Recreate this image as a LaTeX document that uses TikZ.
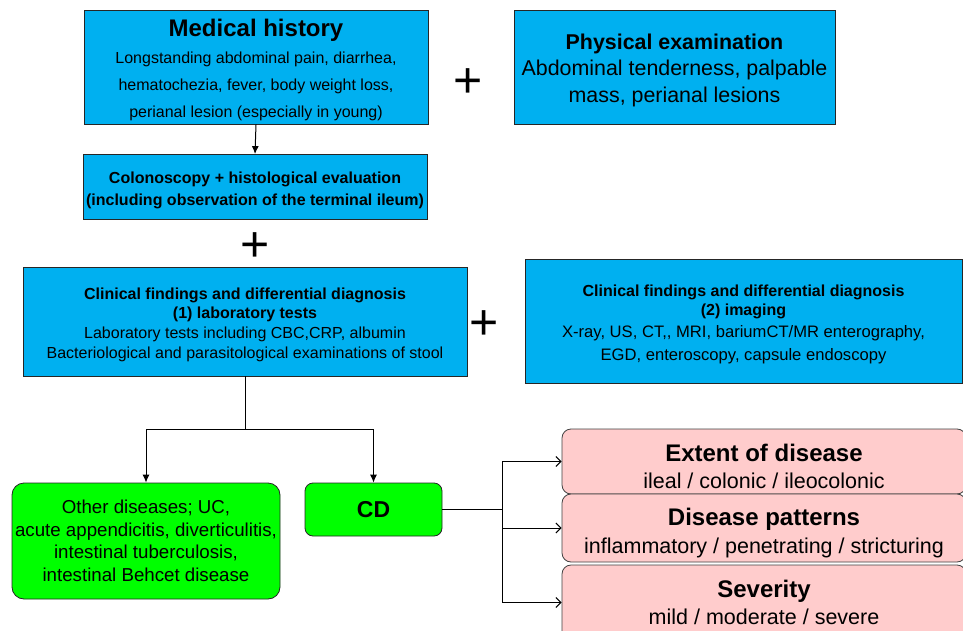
\documentclass[tikz,border=0pt]{standalone}
\usepackage{fontspec}
\setmainfont{Liberation Sans}
\usetikzlibrary{arrows.meta,positioning}

\definecolor{boxblue}{HTML}{00B0F0}
\definecolor{boxgreen}{HTML}{00FF00}
\definecolor{boxpink}{HTML}{FFCCCC}

\newcommand{\fsz}[2]{\fontsize{#1}{#2}\selectfont}
% taller first line, pushes the text block down a little
\newcommand{\topstrut}[1]{\rule{0pt}{#1}}

\tikzset{
  bluebox/.style={draw=black!85, line width=0.8pt, fill=boxblue, inner sep=0pt, align=center},
  greenbox/.style={draw=black!85, line width=0.8pt, fill=boxgreen, rounded corners=12pt, inner sep=0pt, align=center},
  pinkbox/.style={draw=black!75, line width=0.8pt, fill=boxpink, rounded corners=9pt, inner sep=0pt, align=center},
  plussign/.style={font=\fsz{50}{50}, inner sep=0pt},
  link/.style={line width=1pt},
  fwd/.style={link, -{Latex[length=8pt,width=7pt]}},
  branch/.style={link, -{Straight Barb[length=5pt,width=10pt]}},
}

\begin{document}
\begin{tikzpicture}[x=1pt,y=-1pt]
    \useasboundingbox (0,0) rectangle (963,631);

    % first row
    \node[bluebox, minimum width=344pt, minimum height=114pt, font=\fsz{16}{27}] (med_hist) at (256,67)
        {{\bfseries\fsz{24}{27}\topstrut{23.5pt}Medical history}\\ Longstanding abdominal pain, diarrhea,\\ hematochezia, fever, body weight loss,\\ perianal lesion (especially in young)};
    \node[bluebox, minimum width=321pt, minimum height=114pt, font=\fsz{21.4}{26.5}] (phys_exam) at (674.5,67)
        {{\bfseries\topstrut{21.5pt}Physical examination}\\ Abdominal tenderness, palpable\\ mass, perianal lesions};
    \node[plussign] (plus_a) at (468,83) {+};

    % colonoscopy
    \node[bluebox, minimum width=344pt, minimum height=65pt, font=\bfseries\fsz{16}{22}] (colono) at (255,187)
        {\topstrut{17.5pt}Colonoscopy + histological evaluation\\ (including observation of the terminal ileum)};
    \node[plussign] (plus_b) at (255,247) {+};

    % clinical findings
    \node[bluebox, minimum width=444pt, minimum height=109pt, font=\fsz{16}{19.7}] (lab_tests) at (245,321.5)
        {{\bfseries\topstrut{17.5pt}Clinical findings and differential diagnosis}\\ {\bfseries (1) laboratory tests}\\ Laboratory tests including CBC,CRP, albumin\\ Bacteriological and parasitological examinations of stool};
    \node[plussign] (plus_c) at (484,325) {+};
    \node[bluebox, minimum width=437pt, minimum height=124pt, font=\fsz{16}{19}] (imaging) at (743.5,321)
        {{\bfseries\topstrut{17.5pt}Clinical findings and differential diagnosis}\\ {\bfseries (2) imaging}\\[3pt] \fsz{16.6}{19}X-ray, US, CT,\kern0pt, MRI, bariumCT/MR enterography,\\[4pt] \fsz{16.6}{19}EGD, enteroscopy, capsule endoscopy};

    % diagnosis
    \node[greenbox, minimum width=268pt, minimum height=116pt, font=\fsz{18.7}{22.5}] (other_dis) at (146,541)
        {Other diseases; UC,\\ acute appendicitis, diverticulitis,\\ intestinal tuberculosis,\\ intestinal Behcet disease};
    \node[greenbox, rounded corners=8pt, minimum width=137pt, minimum height=53pt, font=\bfseries\fsz{23}{24}] (cd) at (373.5,509.5) {CD};

    % classification of CD
    \node[pinkbox, minimum width=404pt, minimum height=65pt, font=\fsz{21.5}{27.5}] (extent) at (764,461.5)
        {{\bfseries\fsz{24}{27.5}\topstrut{27pt}Extent of disease}\\ ileal / colonic / ileocolonic};
    \node[pinkbox, minimum width=404pt, minimum height=68pt, font=\fsz{21.5}{27.5}] (patterns) at (764,528)
        {{\bfseries\fsz{24}{27.5}\topstrut{27pt}Disease patterns}\\ inflammatory / penetrating / stricturing};
    \node[pinkbox, minimum width=404pt, minimum height=75pt, font=\fsz{21.5}{27.5}] (severity) at (764,602.5)
        {{\bfseries\fsz{24}{27.5}Severity}\\ mild / moderate / severe};

    % connectors
    \draw[fwd] (med_hist.south) -- (colono.north);
    \coordinate (split) at (245,429);
    \draw[link] (lab_tests.south) -- (split);
    \draw[fwd] (split) -| (other_dis.north);
    \draw[fwd] (split) -| (cd.north);
    \coordinate (fork) at (502,509.5);
    \draw[link] (cd.east) -- (fork);
    \foreach \target in {extent,patterns,severity}
        \draw[branch] (fork) |- (\target.west);
\end{tikzpicture}
\end{document}
